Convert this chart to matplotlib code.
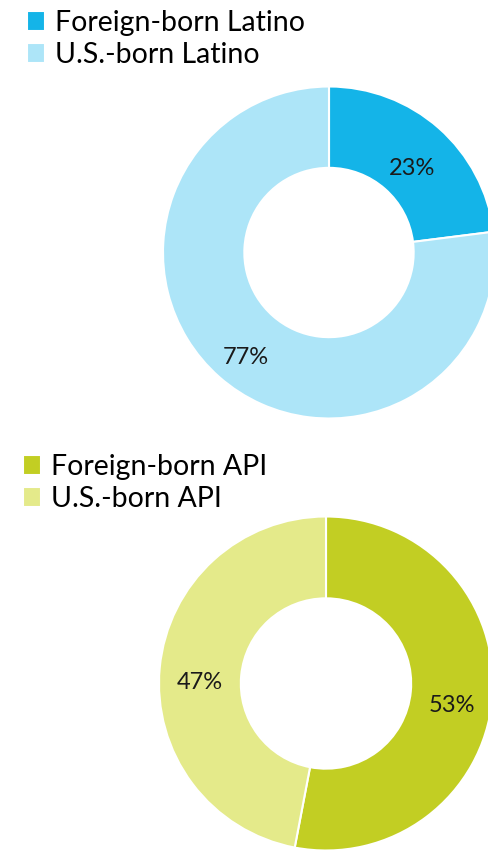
import matplotlib.pyplot as plt

plt.rcParams['font.family'] = ['Lato', 'DejaVu Sans']

W, H = 489, 851

latino_labels = ['Foreign-born Latino', 'U.S.-born Latino']
latino_values = [23, 77]
latino_colors = ['#14b4e8', '#ade5f8']

api_labels = ['Foreign-born API', 'U.S.-born API']
api_values = [53, 47]
api_colors = ['#c2ce23', '#e4ea8a']


def donut(fig, cx, cy, r, values, colors):
    # cx, cy, r in pixels, cy measured from the top
    ax = fig.add_axes([(cx - r) / W, (H - cy - r) / H, 2 * r / W, 2 * r / H])
    wedges, _, autotexts = ax.pie(values, colors=colors, startangle=90, counterclock=False,
                                  radius=1, autopct='%.0f%%', pctdistance=0.76,
                                  wedgeprops=dict(width=0.49, edgecolor='white', linewidth=1.5),
                                  textprops=dict(fontsize=17, color='#1a1a1a'))
    for t in autotexts:
        t.set_va('top')
    ax.set_xlim(-1, 1)
    ax.set_ylim(-1, 1)
    ax.set_aspect('equal')
    ax.axis('off')
    return wedges


def legend(fig, handles, labels, x, y):
    fig.legend(handles, labels, loc='upper left', bbox_to_anchor=(x / W, 1 - y / H),
               frameon=False, fontsize=20.5, handlelength=0.62, handleheight=0.7,
               handletextpad=0.38, labelspacing=0.2, borderpad=0, borderaxespad=0)


fig = plt.figure(figsize=(W / 100, H / 100), dpi=100)

w1 = donut(fig, 329, 252.5, 166, latino_values, latino_colors)
legend(fig, w1, latino_labels, 27, 10)

w2 = donut(fig, 326, 683.5, 167, api_values, api_colors)
legend(fig, w2, api_labels, 23, 454)

fig.savefig('out.png', dpi=100)
